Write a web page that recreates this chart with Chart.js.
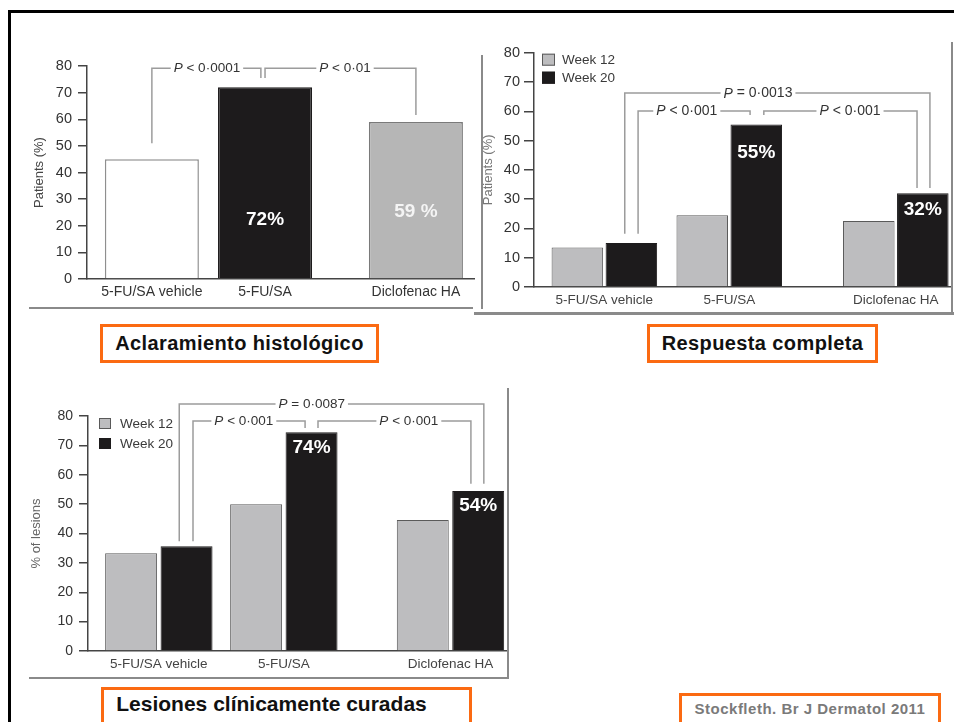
<!DOCTYPE html>
<html>
<head>
<meta charset="utf-8">
<script src="https://cdn.jsdelivr.net/npm/chart.js@4.4.0/dist/chart.umd.min.js"></script>
<style>
    body { margin: 0; background: #fff; width: 954px; height: 722px; overflow: hidden; position: relative; font-family: 'Liberation Sans', Arial, sans-serif; }
    canvas { position: absolute; }
    .line { position: absolute; }
    .cap { position: absolute; box-sizing: border-box; border: 3px solid #fb6a12; background: #fff; color: #111; font-weight: bold; display: flex; align-items: center; justify-content: center; }
</style>
</head>
<body>
<div class="line" style="left:8px;top:10px;width:946px;height:3px;background:#000"></div>
<div class="line" style="left:8px;top:10px;width:3px;height:712px;background:#000"></div>

<canvas id="clearance" width="450" height="272" style="left:29px;top:40px"></canvas>
<canvas id="complete" width="471" height="275" style="left:483px;top:40px"></canvas>
<canvas id="lesions" width="482" height="292" style="left:29px;top:388px"></canvas>

<!-- panel frames -->
<div class="line" style="left:29px;top:307px;width:444px;height:2px;background:#8a8a8a"></div>
<div class="line" style="left:481px;top:55px;width:2px;height:254px;background:#8a8a8a"></div>
<div class="line" style="left:474px;top:312px;width:480px;height:3px;background:#8a8a8a"></div>
<div class="line" style="left:951px;top:42px;width:2px;height:272px;background:#8a8a8a"></div>
<div class="line" style="left:507px;top:388px;width:2px;height:291px;background:#8a8a8a"></div>
<div class="line" style="left:29px;top:677px;width:480px;height:2px;background:#8a8a8a"></div>

<div class="cap" style="left:100px;top:324px;width:279px;height:39px;font-size:20px;letter-spacing:0.4px">Aclaramiento histológico</div>
<div class="cap" style="left:647px;top:324px;width:231px;height:39px;font-size:20px;letter-spacing:0.4px">Respuesta completa</div>
<div class="cap" style="left:101px;top:687px;width:371px;height:40px;font-size:21px;padding-bottom:6px;padding-right:30px">Lesiones clínicamente curadas</div>
<div class="cap" style="left:679px;top:693px;width:262px;height:35px;font-size:15px;letter-spacing:0.5px;padding-bottom:5px;color:#7a7a7a">Stockfleth. Br J Dermatol 2011</div>

<script>
    const FONT = "'Liberation Sans', Arial, sans-serif";
    Chart.defaults.font.family = FONT;

    // --- Data ---
    const groupLabels = ['5-FU/SA vehicle', '5-FU/SA', 'Diclofenac HA'];
    const groupPos = [0, 3, 7]; // slot index on the x axis (groups are unevenly spaced)
    const seriesLabels = ['Week 12', 'Week 20'];

    // Aclaramiento histológico
    const clearanceValues = [45, 72, 59];
    // Respuesta completa
    const completeW12 = [13.5, 24.5, 22.5];
    const completeW20 = [15, 55.5, 32];
    // Lesiones clínicamente curadas
    const lesionsW12 = [33.3, 50, 44.6];
    const lesionsW20 = [35.7, 74.5, 54.5];

    // P-value brackets (x in slot units, y in %)
    const clearanceBrackets = [
        { text: 'P < 0·0001', x1: 0, y1: 51, x2: 2.89, y2: 75.5, level: 79.2, tx: 1.46 },
        { text: 'P < 0·01', x1: 3.0, y1: 75.5, x2: 7.0, y2: 61.6, level: 79.2, tx: 5.12 }
    ];
    const completeBrackets = [
        { text: 'P = 0·0013', x1: 0.49, y1: 18.2, x2: 7.82, y2: 33.8, level: 66.2, tx: 3.69 },
        { text: 'P < 0·001', x1: 0.81, y1: 18.2, x2: 3.5, y2: 58.7, level: 60.1, tx: 1.98 },
        { text: 'P < 0·001', x1: 3.83, y1: 58.7, x2: 7.51, y2: 33.8, level: 60.1, tx: 5.9 }
    ];
    const lesionsBrackets = [
        { text: 'P = 0·0087', x1: 0.49, y1: 37.4, x2: 7.8, y2: 56.9, level: 84.1, tx: 3.67 },
        { text: 'P < 0·001', x1: 0.82, y1: 37.4, x2: 3.51, y2: 75.9, level: 78.3, tx: 2.04 },
        { text: 'P < 0·001', x1: 3.82, y1: 75.9, x2: 7.49, y2: 56.9, level: 78.3, tx: 6.0 }
    ];

    // in-bar percentage labels
    const clearanceLabels = [
        { ds: 0, idx: 1, text: '72%', y: 22.2, color: '#ffffff' },
        { ds: 0, idx: 2, text: '59 %', y: 25.2, color: '#f4f4f4' }
    ];
    const completeLabels = [
        { ds: 1, idx: 1, text: '55%', y: 45.9, color: '#ffffff' },
        { ds: 1, idx: 2, text: '32%', y: 26.3, color: '#ffffff' }
    ];
    const lesionsLabels = [
        { ds: 1, idx: 1, text: '74%', y: 69.1, color: '#ffffff' },
        { ds: 1, idx: 2, text: '54%', y: 49.4, color: '#ffffff' }
    ];

    const toPoints = (vals) => vals.map((v, i) => ({ x: groupPos[i], y: v }));

    // --- Brackets, bar labels and legend ---
    const annotate = {
        id: 'annotate',
        afterDatasetsDraw(chart, args, opts) {
            const { ctx, scales: { x, y } } = chart;
            ctx.save();
            const fs = opts.pFont;
            (opts.brackets || []).forEach(b => {
                const X1 = x.getPixelForValue(b.x1), X2 = x.getPixelForValue(b.x2);
                const L = y.getPixelForValue(b.level);
                ctx.strokeStyle = '#9c9c9c';
                ctx.lineWidth = 1.5;
                ctx.beginPath();
                ctx.moveTo(X1, y.getPixelForValue(b.y1));
                ctx.lineTo(X1, L);
                ctx.lineTo(X2, L);
                ctx.lineTo(X2, y.getPixelForValue(b.y2));
                ctx.stroke();

                const tx = x.getPixelForValue(b.tx);
                const rest = b.text.slice(1);
                ctx.font = `italic ${fs}px ${FONT}`;
                const wP = ctx.measureText('P').width;
                ctx.font = `${fs}px ${FONT}`;
                const w = wP + ctx.measureText(rest).width;
                ctx.fillStyle = '#fff';
                ctx.fillRect(tx - w / 2 - 3, L - fs / 2, w + 6, fs);
                ctx.fillStyle = '#333';
                ctx.textAlign = 'left';
                ctx.textBaseline = 'middle';
                ctx.font = `italic ${fs}px ${FONT}`;
                ctx.fillText('P', tx - w / 2, L + 0.5);
                ctx.font = `${fs}px ${FONT}`;
                ctx.fillText(rest, tx - w / 2 + wP, L + 0.5);
            });

            (opts.labels || []).forEach(l => {
                const bar = chart.getDatasetMeta(l.ds).data[l.idx];
                ctx.font = `bold ${opts.labelFont}px ${FONT}`;
                ctx.fillStyle = l.color;
                ctx.textAlign = 'center';
                ctx.textBaseline = 'middle';
                ctx.fillText(l.text, bar.x, y.getPixelForValue(l.y));
            });

            const lg = opts.legend;
            if (lg) {
                chart.data.datasets.forEach((ds, i) => {
                    const bx = chart.chartArea.left + lg.dx;
                    const by = chart.chartArea.top + lg.dy + i * lg.step;
                    ctx.fillStyle = ds.backgroundColor;
                    ctx.fillRect(bx, by, lg.w, lg.h);
                    ctx.strokeStyle = ds.borderColor;
                    ctx.lineWidth = 1;
                    ctx.strokeRect(bx + 0.5, by + 0.5, lg.w - 1, lg.h - 1);
                    ctx.fillStyle = '#3a3a3a';
                    ctx.font = `${lg.font}px ${FONT}`;
                    ctx.textAlign = 'left';
                    ctx.textBaseline = 'middle';
                    ctx.fillText(ds.label, bx + lg.w + lg.gap, by + lg.h / 2 + 1);
                });
            }
            ctx.restore();
        }
    };

    const makeChart = (id, cfg) => new Chart(document.getElementById(id), {
        type: 'bar',
        data: { datasets: cfg.datasets },
        options: {
            responsive: false,
            animation: false,
            layout: { padding: cfg.padding },
            plugins: { legend: { display: false }, tooltip: { enabled: false }, annotate: cfg.annot },
            scales: {
                x: {
                    type: 'linear', min: cfg.xMin, max: cfg.xMax, offset: false,
                    grid: { display: false, drawTicks: false, offset: false },
                    border: { display: true, color: '#444', width: 1.5 },
                    afterBuildTicks: s => { s.ticks = groupPos.map(v => ({ value: v })); },
                    ticks: {
                        callback: v => groupLabels[groupPos.indexOf(v)],
                        color: cfg.xColor, font: { size: cfg.xFont }, padding: cfg.xPad,
                        maxRotation: 0, autoSkip: false
                    },
                    afterFit: s => { s.height = cfg.xHeight; }
                },
                y: {
                    min: 0, max: 80,
                    grid: { drawOnChartArea: false, drawTicks: true, tickLength: cfg.tickLen, color: '#444', lineWidth: 1.5 },
                    border: { display: true, color: '#444', width: 1.5 },
                    ticks: { stepSize: 10, color: '#333', font: { size: cfg.yFont }, padding: cfg.yPad },
                    title: { display: true, text: cfg.yTitle, color: cfg.titleColor, font: { size: 13 }, padding: { top: cfg.titlePad, bottom: 0 } },
                    afterFit: s => { s.width = cfg.yWidth; }
                }
            }
        },
        plugins: [annotate]
    });

    const weekStyle = [
        { backgroundColor: '#bdbdbf', borderColor: '#5a5a5a' },
        { backgroundColor: '#1d1b1c', borderColor: '#1d1b1c' }
    ];

    makeChart('clearance', {
        datasets: [{
            data: toPoints(clearanceValues),
            backgroundColor: ['#ffffff', '#1d1b1c', '#b6b6b6'],
            borderColor: ['#8f8f8f', '#1d1b1c', '#7a7a7a'],
            borderWidth: 1.5,
            categoryPercentage: 0.831,
            barPercentage: 1
        }],
        padding: { top: 26, right: 5, left: 0, bottom: 0 },
        xMin: -1.72, xMax: 8.54, xFont: 14, xColor: '#333', xPad: 5, xHeight: 33,
        yFont: 14.5, yPad: 6, tickLen: 9, yWidth: 58,
        yTitle: 'Patients (%)', titleColor: '#444', titlePad: 3,
        annot: { brackets: clearanceBrackets, labels: clearanceLabels, pFont: 13.5, labelFont: 19 }
    });

    makeChart('complete', {
        datasets: [completeW12, completeW20].map((vals, i) => ({
            label: seriesLabels[i],
            data: toPoints(vals),
            ...weekStyle[i],
            borderWidth: 1,
            categoryPercentage: 0.865,
            barPercentage: 0.954
        })),
        padding: { top: 10, right: 2, left: 0, bottom: 0 },
        xMin: -1.69, xMax: 8.35, xFont: 13.5, xColor: '#444', xPad: 5, xHeight: 28,
        yFont: 14.5, yPad: 4, tickLen: 10, yWidth: 51,
        yTitle: 'Patients (%)', titleColor: '#777', titlePad: -2,
        annot: {
            brackets: completeBrackets, labels: completeLabels, pFont: 14, labelFont: 19,
            legend: { dx: 8, dy: 1, step: 18, w: 13, h: 12, gap: 7, font: 13.5 }
        }
    });

    makeChart('lesions', {
        datasets: [lesionsW12, lesionsW20].map((vals, i) => ({
            label: seriesLabels[i],
            data: toPoints(vals),
            ...weekStyle[i],
            borderWidth: 1,
            categoryPercentage: 0.887,
            barPercentage: 0.937
        })),
        padding: { top: 28, right: 3, left: 0, bottom: 0 },
        xMin: -1.70, xMax: 8.38, xFont: 13.5, xColor: '#444', xPad: 5, xHeight: 29,
        yFont: 14, yPad: 6, tickLen: 9, yWidth: 59,
        yTitle: '% of lesions', titleColor: '#666', titlePad: 0,
        annot: {
            brackets: lesionsBrackets, labels: lesionsLabels, pFont: 13.5, labelFont: 19,
            legend: { dx: 11, dy: 2, step: 20, w: 12, h: 11, gap: 9, font: 13.5 }
        }
    });
</script>
</body>
</html>
